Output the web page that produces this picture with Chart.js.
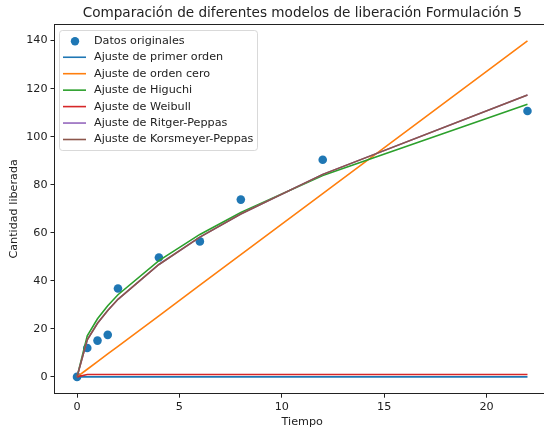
<!DOCTYPE html>
<html>
<head>
<meta charset="utf-8">
<script src="https://cdn.jsdelivr.net/npm/chart.js@4.4.1/dist/chart.umd.min.js"></script>
<style>
  html, body { margin: 0; padding: 0; background: #fff; overflow: hidden; }
  #wrap { width: 544px; height: 434px; overflow: hidden; }
</style>
</head>
<body>
<div id="wrap"><canvas id="grafico" width="560" height="434"></canvas></div>
<script>
// tiempos de muestreo y cantidades liberadas
const tiempo = [0, 0.5, 1, 1.5, 2, 4, 6, 8, 12, 22];
const datosOriginales = [0, 12.0, 15.1, 17.5, 36.8, 49.7, 56.4, 73.8, 90.4, 110.7];

// curvas ajustadas de cada modelo (mismos tiempos)
const primerOrden = [0, 0, 0, 0, 0, 0, 0, 0, 0, 0];
const ordenCero = [0, 3.18, 6.36, 9.54, 12.72, 25.44, 38.16, 50.88, 76.32, 139.9];
const higuchi = [0, 17.1, 24.2, 29.6, 34.2, 48.4, 59.3, 68.4, 83.8, 113.5];
const weibull = [0, 1.0, 1.0, 1.0, 1.0, 1.0, 1.0, 1.0, 1.0, 1.0];
const ritgerPeppas = [0, 15.4, 22.3, 27.6, 32.3, 46.8, 58.2, 67.8, 84.3, 117.3];
const korsmeyerPeppas = [0, 15.4, 22.3, 27.6, 32.3, 46.8, 58.2, 67.8, 84.3, 117.3];

const xTicks = [0, 5, 10, 15, 20];
const yTicks = [0, 20, 40, 60, 80, 100, 120, 140];

const FONT = "'DejaVu Sans', sans-serif";
const TEXT = '#222';
const SIZE = 11.2;

const pts = (ys) => tiempo.map((t, i) => ({ x: t, y: ys[i] }));

function curva(label, ys, color, order) {
    return {
        label: label,
        data: pts(ys),
        showLine: true,
        borderColor: color,
        backgroundColor: color,
        borderWidth: 1.6,
        pointRadius: 0,
        tension: 0,
        order: order
    };
}

// marco superior/derecho, títulos y leyenda estilo matplotlib
const extras = {
    id: 'extras',
    afterDraw(chart) {
        const ctx = chart.ctx;
        const a = chart.chartArea;
        ctx.save();
        ctx.strokeStyle = '#222';
        ctx.lineWidth = 1;
        ctx.beginPath();
        ctx.moveTo(a.left, a.top + 0.5);
        ctx.lineTo(a.right, a.top + 0.5);
        ctx.lineTo(a.right, a.bottom);
        ctx.stroke();

        ctx.fillStyle = TEXT;
        const cx = (a.left + a.right) / 2;
        ctx.textAlign = 'center';
        ctx.textBaseline = 'middle';
        ctx.font = '13.6px ' + FONT;
        ctx.fillText('Comparación de diferentes modelos de liberación Formulación 5', cx, 13);
        ctx.font = SIZE + 'px ' + FONT;
        ctx.fillText('Tiempo', cx, 422);
        ctx.save();
        ctx.translate(14, (a.top + a.bottom) / 2);
        ctx.rotate(-Math.PI / 2);
        ctx.fillText('Cantidad liberada', 0, 0);
        ctx.restore();

        // leyenda
        const bx = 59.5, by = 30.5, bw = 198, bh = 120, r = 3;
        ctx.globalAlpha = 0.8;
        ctx.fillStyle = '#fff';
        ctx.strokeStyle = '#d0d0d0';
        ctx.beginPath();
        ctx.roundRect(bx, by, bw, bh, r);
        ctx.fill();
        ctx.stroke();
        ctx.globalAlpha = 1;

        ctx.textAlign = 'left';
        ctx.font = SIZE + 'px ' + FONT;
        chart.data.datasets.forEach((ds, i) => {
            const y = 40.8 + i * 16.45;
            if (ds.showLine) {
                ctx.strokeStyle = ds.borderColor;
                ctx.lineWidth = 1.6;
                ctx.beginPath();
                ctx.moveTo(63, y);
                ctx.lineTo(86, y);
                ctx.stroke();
            } else {
                ctx.fillStyle = ds.backgroundColor;
                ctx.beginPath();
                ctx.arc(75, y + 0.5, 4.2, 0, Math.PI * 2);
                ctx.fill();
            }
            ctx.fillStyle = TEXT;
            ctx.fillText(ds.label, 94, y);
        });
        ctx.restore();
    }
};

const ctx = document.getElementById('grafico').getContext('2d');
new Chart(ctx, {
    type: 'scatter',
    data: {
        datasets: [
            {
                label: 'Datos originales',
                data: pts(datosOriginales),
                backgroundColor: '#1f77b4',
                borderColor: '#1f77b4',
                pointRadius: 4.3,
                pointBorderWidth: 0,
                showLine: false,
                order: 10
            },
            curva('Ajuste de primer orden', primerOrden, '#1f77b4', 6),
            curva('Ajuste de orden cero', ordenCero, '#ff7f0e', 5),
            curva('Ajuste de Higuchi', higuchi, '#2ca02c', 4),
            curva('Ajuste de Weibull', weibull, '#d62728', 3),
            curva('Ajuste de Ritger-Peppas', ritgerPeppas, '#9467bd', 2),
            curva('Ajuste de Korsmeyer-Peppas', korsmeyerPeppas, '#8c564b', 1)
        ]
    },
    options: {
        responsive: false,
        animation: false,
        events: [],
        layout: { padding: { top: 24, right: 10, left: 0, bottom: 0 } },
        plugins: {
            legend: { display: false },
            title: { display: false },
            tooltip: { enabled: false }
        },
        scales: {
            x: {
                type: 'linear',
                min: -1.1,
                max: 23.1,
                afterBuildTicks: (s) => { s.ticks = xTicks.map(v => ({ value: v })); },
                afterFit: (s) => { s.height = 40.3; },
                border: { display: true, color: '#222', width: 1 },
                grid: { display: true, drawOnChartArea: false, drawTicks: true, tickLength: 4, color: '#222' },
                ticks: { font: { family: FONT, size: SIZE }, color: TEXT, padding: 3, maxRotation: 0 }
            },
            y: {
                type: 'linear',
                min: -7,
                max: 146.9,
                afterBuildTicks: (s) => { s.ticks = yTicks.map(v => ({ value: v })); },
                afterFit: (s) => { s.width = 54.5; },
                border: { display: true, color: '#222', width: 1 },
                grid: { display: true, drawOnChartArea: false, drawTicks: true, tickLength: 4, color: '#222' },
                ticks: { font: { family: FONT, size: SIZE }, color: TEXT, padding: 3 }
            }
        }
    },
    plugins: [extras]
});
</script>
</body>
</html>
